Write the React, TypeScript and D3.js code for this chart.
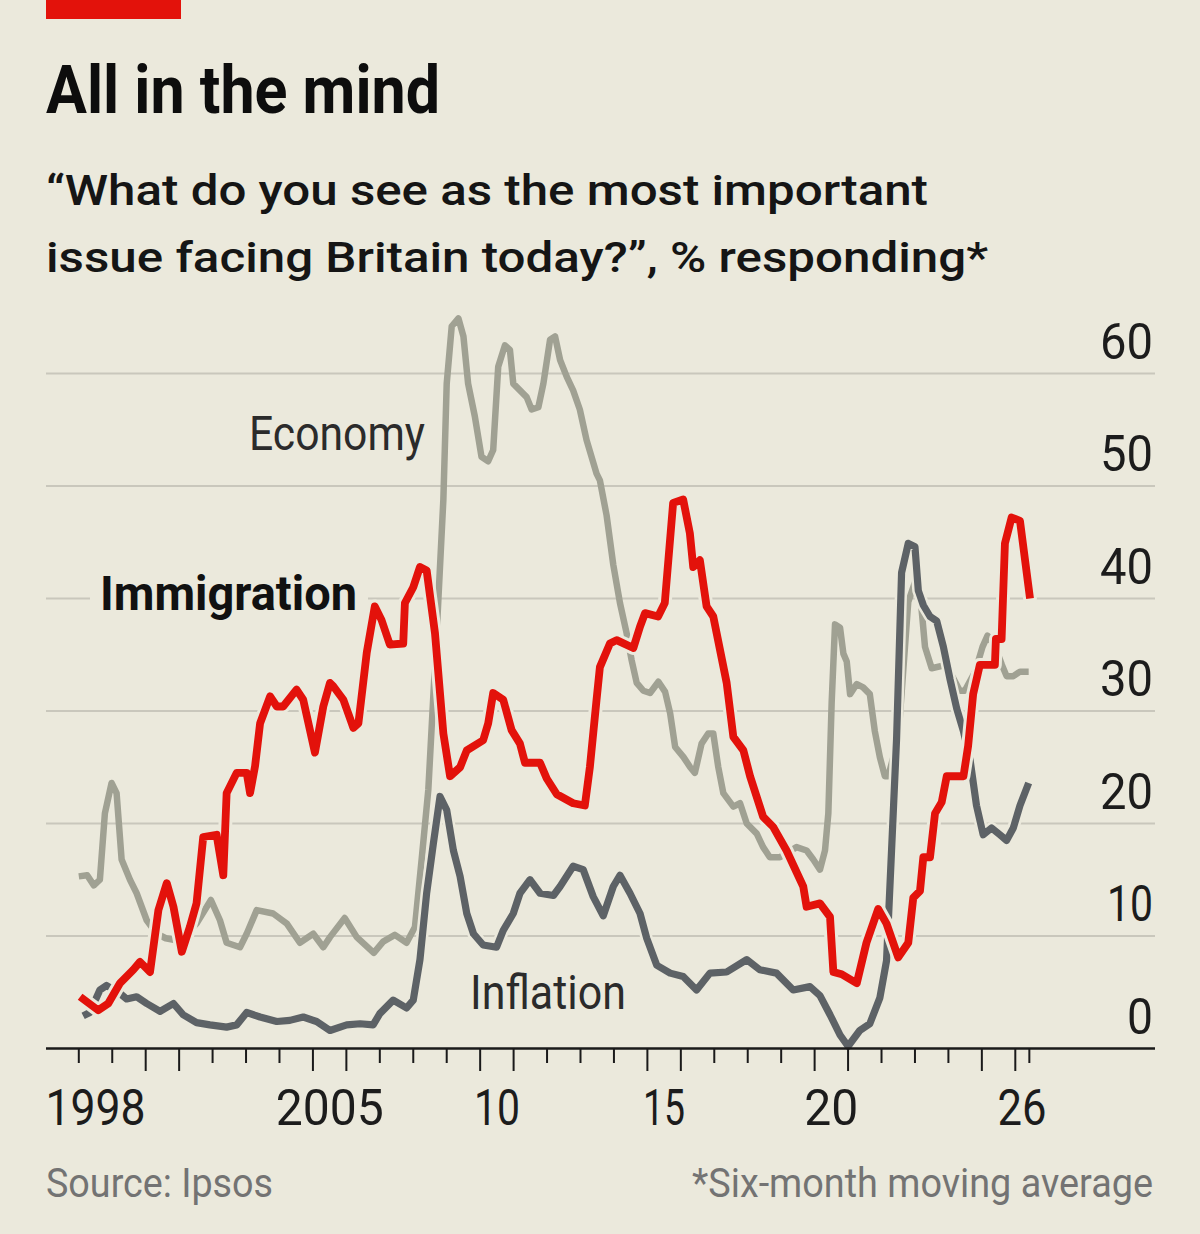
import React from "react";
import * as d3 from "d3";

// ---- Data (decimal year, % responding, six-month moving average) ----
const immigration: [number, number][] = [
  [1998.04, 4.6], [1998.58, 3.4], [1998.88, 4.0], [1999.23, 5.8], [1999.63, 7.0], [1999.83, 7.7],
  [2000.13, 6.8], [2000.38, 12.3], [2000.63, 14.7], [2000.83, 12.6], [2001.08, 8.6], [2001.32, 10.8],
  [2001.52, 12.9], [2001.72, 18.8], [2002.12, 19.0], [2002.32, 15.4], [2002.42, 22.7], [2002.72, 24.5],
  [2003.02, 24.5], [2003.12, 22.7], [2003.27, 25.1], [2003.42, 28.9], [2003.72, 31.3], [2003.92, 30.4],
  [2004.11, 30.4], [2004.51, 31.9], [2004.71, 31.0], [2005.06, 26.3], [2005.31, 30.4], [2005.51, 32.5],
  [2005.61, 32.2], [2005.91, 31.0], [2006.21, 28.5], [2006.36, 28.9], [2006.61, 35.2], [2006.85, 39.3],
  [2007.05, 38.1], [2007.3, 35.9], [2007.7, 36.0], [2007.75, 39.6], [2008.0, 41.0], [2008.2, 42.8],
  [2008.4, 42.5], [2008.65, 36.9], [2008.9, 28.0], [2009.1, 24.2], [2009.4, 25.0], [2009.6, 26.5],
  [2010.09, 27.4], [2010.24, 28.9], [2010.39, 31.6], [2010.69, 31.0], [2010.94, 28.3], [2011.19, 27.1],
  [2011.34, 25.4], [2011.79, 25.4], [2011.99, 24.0], [2012.29, 22.6], [2012.78, 21.8], [2013.13, 21.6],
  [2013.28, 25.0], [2013.48, 31.0], [2013.58, 33.9], [2013.88, 36.0], [2014.08, 36.3], [2014.58, 35.6],
  [2014.78, 37.5], [2014.93, 38.7], [2015.32, 38.4], [2015.52, 39.6], [2015.77, 48.5], [2016.07, 48.8],
  [2016.27, 45.8], [2016.37, 42.8], [2016.57, 43.4], [2016.77, 39.3], [2016.97, 38.4], [2017.37, 32.5],
  [2017.57, 27.7], [2017.87, 26.5], [2018.07, 24.2], [2018.46, 20.6], [2018.76, 19.7], [2019.16, 17.6],
  [2019.66, 14.4], [2019.76, 12.6], [2020.16, 12.9], [2020.46, 11.7], [2020.56, 6.8], [2020.81, 6.6],
  [2021.26, 5.8], [2021.55, 9.4], [2021.9, 12.4], [2022.15, 11.1], [2022.5, 8.1], [2022.8, 9.4],
  [2022.95, 13.4], [2023.15, 14.0], [2023.25, 17.0], [2023.45, 17.0], [2023.6, 20.9], [2023.8, 21.9],
  [2023.95, 24.2], [2024.45, 24.2], [2024.59, 26.9], [2024.74, 31.5], [2024.94, 34.1], [2025.39, 34.1],
  [2025.42, 36.4], [2025.59, 36.4], [2025.69, 44.9], [2025.89, 47.2], [2026.14, 46.9], [2026.44, 40.0],
];

const economy: [number, number][] = [
  [1998.0, 15.3], [1998.25, 15.4], [1998.45, 14.5], [1998.63, 15.0], [1998.78, 20.9], [1998.98, 23.6],
  [1999.13, 22.7], [1999.28, 16.8], [1999.53, 15.0], [1999.73, 13.8], [2000.03, 11.4], [2000.33, 10.2],
  [2000.6, 9.8], [2000.95, 9.6], [2001.23, 10.2], [2001.52, 11.1], [2001.95, 13.2], [2002.22, 11.4],
  [2002.42, 9.4], [2002.82, 9.0], [2003.02, 10.2], [2003.32, 12.3], [2003.81, 12.0], [2004.22, 11.1],
  [2004.61, 9.4], [2005.01, 10.2], [2005.31, 9.0], [2005.51, 9.9], [2005.95, 11.6], [2006.31, 9.9],
  [2006.82, 8.5], [2007.1, 9.5], [2007.45, 10.1], [2007.8, 9.4], [2008.05, 10.8], [2008.25, 16.8],
  [2008.45, 23.0], [2008.7, 36.9], [2008.9, 48.8], [2009.0, 59.1], [2009.15, 64.2], [2009.35, 64.9],
  [2009.5, 63.3], [2009.64, 59.1], [2009.84, 56.2], [2010.04, 52.6], [2010.24, 52.2], [2010.39, 53.2],
  [2010.54, 60.6], [2010.74, 62.5], [2010.89, 62.1], [2010.99, 59.1], [2011.19, 58.5], [2011.39, 57.9],
  [2011.54, 56.8], [2011.74, 57.0], [2011.89, 59.1], [2012.09, 63.0], [2012.24, 63.3], [2012.39, 61.2],
  [2012.59, 59.7], [2012.78, 58.5], [2012.98, 56.8], [2013.18, 54.1], [2013.48, 51.1], [2013.58, 50.5],
  [2013.78, 47.4], [2013.98, 43.0], [2014.18, 39.6], [2014.38, 36.9], [2014.53, 34.5], [2014.68, 32.5],
  [2014.88, 31.8], [2015.08, 31.6], [2015.33, 32.6], [2015.53, 31.7], [2015.68, 29.8], [2015.83, 26.8],
  [2016.08, 25.9], [2016.28, 25.0], [2016.42, 24.5], [2016.62, 27.1], [2016.82, 28.0], [2016.97, 28.0],
  [2017.12, 25.0], [2017.27, 22.7], [2017.57, 21.5], [2017.77, 21.8], [2017.97, 20.0], [2018.27, 19.1],
  [2018.46, 17.9], [2018.66, 17.0], [2018.96, 17.0], [2019.46, 17.9], [2019.76, 17.6], [2019.96, 16.8],
  [2020.16, 15.9], [2020.31, 17.6], [2020.41, 20.9], [2020.51, 30.8], [2020.61, 37.7], [2020.76, 37.4],
  [2020.86, 35.1], [2020.96, 34.4], [2021.06, 31.5], [2021.26, 32.4], [2021.45, 32.1], [2021.65, 31.5],
  [2021.8, 28.2], [2021.95, 25.9], [2022.1, 24.2], [2022.2, 24.2], [2022.5, 27.5], [2022.8, 39.7],
  [2023.1, 42.3], [2023.3, 35.7], [2023.5, 33.8], [2023.94, 34.1], [2024.34, 31.8], [2024.49, 31.8],
  [2024.8, 33.5], [2025.02, 35.7], [2025.17, 36.7], [2025.4, 35.7], [2025.6, 34.1], [2025.74, 33.1],
  [2025.94, 33.1], [2026.14, 33.5], [2026.4, 33.5],
];

const inflation: [number, number][] = [
  [1998.13, 2.9], [1998.33, 3.2], [1998.63, 5.2], [1998.83, 5.6], [1999.23, 4.9], [1999.43, 4.4],
  [1999.73, 4.6], [2000.03, 4.0], [2000.43, 3.3], [2000.83, 4.0], [2001.12, 3.0], [2001.52, 2.3],
  [2001.92, 2.1], [2002.42, 1.9], [2002.72, 2.1], [2003.02, 3.2], [2003.42, 2.8], [2003.92, 2.4],
  [2004.31, 2.5], [2004.71, 2.8], [2005.11, 2.4], [2005.51, 1.6], [2006.01, 2.1], [2006.41, 2.2],
  [2006.8, 2.1], [2007.0, 3.1], [2007.4, 4.3], [2007.8, 3.6], [2008.0, 4.3], [2008.2, 7.9],
  [2008.4, 13.8], [2008.6, 18.2], [2008.8, 22.4], [2009.0, 21.2], [2009.2, 17.6], [2009.4, 15.3],
  [2009.6, 12.0], [2009.8, 10.2], [2010.09, 9.2], [2010.49, 9.0], [2010.69, 10.5], [2010.99, 12.0],
  [2011.19, 13.8], [2011.49, 15.0], [2011.79, 13.8], [2012.19, 13.6], [2012.39, 14.4], [2012.78, 16.2],
  [2013.08, 15.9], [2013.38, 13.5], [2013.68, 11.8], [2013.98, 14.4], [2014.18, 15.4], [2014.48, 13.8],
  [2014.78, 12.0], [2014.98, 9.8], [2015.28, 7.4], [2015.68, 6.7], [2016.07, 6.4], [2016.47, 5.2],
  [2016.87, 6.7], [2017.37, 6.8], [2017.97, 7.9], [2018.36, 7.0], [2018.86, 6.7], [2019.36, 5.2],
  [2019.86, 5.5], [2020.16, 4.7], [2020.46, 3.0], [2020.76, 1.2], [2021.0, 0.2], [2021.35, 1.6],
  [2021.65, 2.2], [2021.95, 4.5], [2022.15, 7.8], [2022.3, 17.6], [2022.45, 27.5], [2022.6, 42.3],
  [2022.8, 44.9], [2023.0, 44.6], [2023.1, 40.7], [2023.25, 39.4], [2023.45, 38.4], [2023.65, 38.0],
  [2023.85, 35.7], [2024.05, 32.8], [2024.25, 30.2], [2024.45, 28.2], [2024.65, 25.6], [2024.84, 21.6],
  [2025.04, 19.0], [2025.29, 19.6], [2025.54, 19.0], [2025.74, 18.5], [2025.94, 19.6], [2026.14, 21.6],
  [2026.4, 23.6],
];

const yTicks = [0, 10, 20, 30, 40, 50, 60];
const yearBoundaries = d3.range(1998, 2027);
const dataEnd = 2026.42;
const xLabels: [number, string][] = [
  [1998.5, "1998"], [2005.5, "2005"], [2010.5, "10"], [2015.5, "15"], [2020.5, "20"], [2026.2, "26"],
];
const xLabelWidths: Record<string, number> = { "1998": 100, "2005": 108, "10": 46, "15": 42, "20": 54, "26": 49 };
const yLabelWidths: Record<number, number> = { 0: 26, 10: 46, 20: 53, 30: 53, 40: 53, 50: 53, 60: 53 };

// ---- Styling ----
const BG = "#ebe9dc";
const RED = "#e3120b";
const ECON = "#a0a193";
const INFL = "#5d6266";
const GRID = "#c9c7bc";
const FONT = "Roboto, 'Liberation Sans', Arial, sans-serif";

export default function App() {
  const x = d3.scaleLinear().domain([1998, 2026]).range([78.8, 1015.3]);
  const y = d3.scaleLinear().domain([0, 60]).range([1048.5, 373.5]);
  const line = d3
    .line<[number, number]>()
    .x((d) => x(d[0]))
    .y((d) => y(d[1]))
    .curve(d3.curveLinear);

  const series = [
    { data: economy, color: ECON, w: 6.5, halo: 0 },
    { data: inflation, color: INFL, w: 7.2, halo: 2.5 },
    { data: immigration, color: RED, w: 7.8, halo: 3 },
  ];

  return (
    <svg
      width={1200}
      height={1234}
      style={{ position: "absolute", left: 0, top: 0, display: "block" }}
      fontFamily={FONT}
    >
      <rect x={0} y={0} width={1200} height={1234} fill={BG} />
      <rect x={46} y={0} width={135} height={19} fill={RED} />

      <text x={46} y={113} fontSize={67} fontWeight={700} fill="#0d0d0d" textLength={394} lengthAdjust="spacingAndGlyphs">
        All in the mind
      </text>
      <text x={46} y={205} fontSize={43} fontWeight={500} fill="#151515" textLength={882} lengthAdjust="spacingAndGlyphs">
        “What do you see as the most important
      </text>
      <text x={46} y={272} fontSize={43} fontWeight={500} fill="#151515" textLength={942} lengthAdjust="spacingAndGlyphs">
        issue facing Britain today?”, % responding*
      </text>

      {/* gridlines */}
      {yTicks.filter((t) => t > 0).map((t) => (
        <line key={t} x1={46} x2={1155} y1={y(t)} y2={y(t)} stroke={GRID} strokeWidth={2.2} />
      ))}

      {/* y labels */}
      {yTicks.map((t) => (
        <text
          key={t}
          x={1153}
          y={y(t) - 15}
          textAnchor="end"
          fontSize={50}
          fill="#1c1c1c"
          textLength={yLabelWidths[t]}
          lengthAdjust="spacingAndGlyphs"
        >
          {t}
        </text>
      ))}

      {/* label backing for Immigration over gridline */}
      <rect x={90} y={568} width={278} height={56} fill={BG} />

      {/* lines */}
      {series.map((s, i) => (
        <g key={i}>
          {s.halo > 0 && (
            <path
              d={line(s.data) || ""}
              fill="none"
              stroke={BG}
              strokeWidth={s.w + s.halo * 2}
              strokeLinejoin="round"
              strokeLinecap="round"
            />
          )}
          <path
            d={line(s.data) || ""}
            fill="none"
            stroke={s.color}
            strokeWidth={s.w}
            strokeLinejoin="round"
            strokeLinecap="butt"
          />
        </g>
      ))}

      {/* series labels */}
      <text x={249} y={450} fontSize={49} fill="#2b2b2b" textLength={176} lengthAdjust="spacingAndGlyphs">
        Economy
      </text>
      <text x={100} y={610} fontSize={49} fontWeight={700} fill="#111" textLength={257} lengthAdjust="spacingAndGlyphs">
        Immigration
      </text>
      <text x={470} y={1009} fontSize={49} fill="#2b2b2b" textLength={156} lengthAdjust="spacingAndGlyphs">
        Inflation
      </text>

      {/* x axis */}
      <line x1={46} x2={1155} y1={1048.5} y2={1048.5} stroke="#1a1a1a" strokeWidth={2.6} />
      {yearBoundaries.map((yr) => {
        const long = yr % 5 === 0 || yr % 5 === 1;
        return (
          <line
            key={yr}
            x1={x(yr)}
            x2={x(yr)}
            y1={1048.5}
            y2={long ? 1071 : 1063}
            stroke="#1a1a1a"
            strokeWidth={2}
          />
        );
      })}
      <line x1={x(dataEnd)} x2={x(dataEnd)} y1={1048.5} y2={1063} stroke="#1a1a1a" strokeWidth={2} />

      {xLabels.map(([v, label]) => (
        <text
          key={label}
          x={x(v)}
          y={1125}
          textAnchor="middle"
          fontSize={50}
          fill="#1c1c1c"
          textLength={xLabelWidths[label]}
          lengthAdjust="spacingAndGlyphs"
        >
          {label}
        </text>
      ))}

      <text x={46} y={1197} fontSize={40} fill="#737373" textLength={227} lengthAdjust="spacingAndGlyphs">
        Source: Ipsos
      </text>
      <text x={1153} y={1197} textAnchor="end" fontSize={40} fill="#737373" textLength={461} lengthAdjust="spacingAndGlyphs">
        *Six-month moving average
      </text>
    </svg>
  );
}
